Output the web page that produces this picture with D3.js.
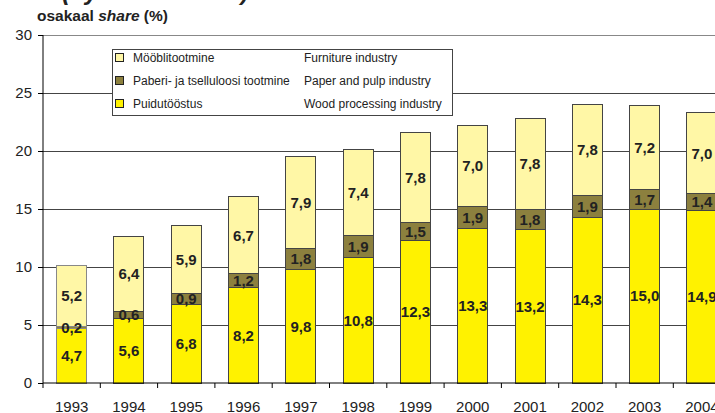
<!DOCTYPE html>
<html><head><meta charset="utf-8">
<script src="https://cdn.jsdelivr.net/npm/d3@7"></script>
<style>body{margin:0;background:#fff;overflow:hidden}svg{display:block;font-family:Arial,"Liberation Sans",sans-serif}</style>
</head><body><svg id="c" width="715" height="413"></svg>
<script>
const years = ["1993","1994","1995","1996","1997","1998","1999","2000","2001","2002","2003","2004"];
const wood = [4.7,5.6,6.8,8.2,9.8,10.8,12.3,13.3,13.2,14.3,15.0,14.9];
const paper = [0.2,0.6,0.9,1.2,1.8,1.9,1.5,1.9,1.8,1.9,1.7,1.4];
const furniture = [5.2,6.4,5.9,6.7,7.9,7.4,7.8,7.0,7.8,7.8,7.2,7.0];
const yTicks = [0,5,10,15,20,25,30];
const seriesKeys = ["wood","paper","furniture"];
const legendEt = ["Mööblitootmine","Paberi- ja tselluloosi tootmine","Puidutööstus"];
const legendEn = ["Furniture industry","Paper and pulp industry","Wood processing industry"];
const legendKeys = ["furniture","paper","wood"];
const colors = {wood:"#FFF200", paper:"#8C803E", furniture:"#FFF7A6"};

const svg = d3.select("#c");
const x = d3.scaleBand().domain(years).range([43, 43+12*57.3]).paddingInner(0.476).paddingOuter(0.238);
const y = d3.scaleLinear().domain([0,30]).range([383,35]);

const rows = years.map((yr,i)=>({year:yr, wood:wood[i], paper:paper[i], furniture:furniture[i]}));
const stack = d3.stack().keys(seriesKeys)(rows);

// partial title at top (clipped by the page edge, as in the reference)
svg.append("text").attr("x",62).attr("y",0).attr("font-size",24).attr("font-style","italic").attr("font-weight","bold").attr("fill","#222").text("(by sub-sectors) in 1993–2004");

// gridlines
svg.append("g").selectAll("line").data(yTicks.filter(d=>d>0)).join("line")
  .attr("x1",43).attr("x2",715).attr("y1",d=>y(d)).attr("y2",d=>y(d))
  .attr("stroke",d=>d===30?"#888":"#444").attr("stroke-width",1).attr("shape-rendering","crispEdges");

// bars
const g = svg.append("g");
stack.forEach(s=>{
  g.append("g").selectAll("rect").data(s).join("rect")
    .attr("x",d=>x(d.data.year)).attr("width",x.bandwidth())
    .attr("y",d=>y(d[1])).attr("height",d=>y(d[0])-y(d[1]))
    .attr("fill",colors[s.key]).attr("stroke",(d,i)=>i===0?"#888":"#444").attr("stroke-width",1)
    .attr("shape-rendering","crispEdges");
});
// labels
stack.forEach(s=>{
  g.append("g").selectAll("text").data(s).join("text")
    .attr("x",d=>x(d.data.year)+x.bandwidth()/2)
    .attr("y",d=>(y(d[0])+y(d[1]))/2)
    .attr("dy","0.36em").attr("text-anchor","middle")
    .attr("font-size",15).attr("font-weight","bold").attr("fill","#222")
    .text(d=>d3.format(".1f")(d.data[s.key]).replace(".",","));
});

// y axis
const ya = svg.append("g").attr("transform","translate(43,0)")
  .call(d3.axisLeft(y).tickValues(yTicks).tickSize(5).tickPadding(6).tickFormat(d3.format("d")));
ya.select(".domain").attr("stroke","#000").attr("d","M0,35V383");
ya.selectAll(".tick line").attr("stroke","#000");
ya.selectAll("text").attr("font-size",15).attr("fill","#222").attr("font-family","Arial,'Liberation Sans',sans-serif");

// x axis
const xa = svg.append("g").attr("transform","translate(0,383)");
xa.append("line").attr("x1",43).attr("x2",715).attr("y1",0).attr("y2",0).attr("stroke","#000");
xa.selectAll("line.t").data(d3.range(13)).join("line").attr("class","t")
  .attr("x1",i=>43+i*57.3).attr("x2",i=>43+i*57.3).attr("y1",0).attr("y2",5).attr("stroke","#000");
xa.selectAll("text").data(years).join("text")
  .attr("x",d=>x(d)+x.bandwidth()/2).attr("y",28.5).attr("text-anchor","middle")
  .attr("font-size",15).attr("fill","#222").text(d=>d);

// y title
const t = svg.append("text").attr("x",37).attr("y",21).attr("font-size",15.5).attr("font-weight","bold").attr("fill","#222");
t.append("tspan").text("osakaal ");
t.append("tspan").attr("font-style","italic").text("share");
t.append("tspan").text(" (%)");

// legend
const lg = svg.append("g");
lg.append("rect").attr("x",112.5).attr("y",49.5).attr("width",340).attr("height",66).attr("fill","#fff").attr("stroke","#444").attr("shape-rendering","crispEdges");
const ry = [57.5,80.5,104];
legendKeys.forEach((k,i)=>{
  lg.append("rect").attr("x",115.5).attr("y",ry[i]-4.5).attr("width",8).attr("height",8).attr("fill",colors[k]).attr("stroke","#222").attr("shape-rendering","crispEdges");
  lg.append("text").attr("x",133).attr("y",ry[i]).attr("dy","0.35em").attr("font-size",12).attr("fill","#222").text(legendEt[i]);
  lg.append("text").attr("x",304).attr("y",ry[i]).attr("dy","0.35em").attr("font-size",12).attr("fill","#222").text(legendEn[i]);
});
</script></body></html>
